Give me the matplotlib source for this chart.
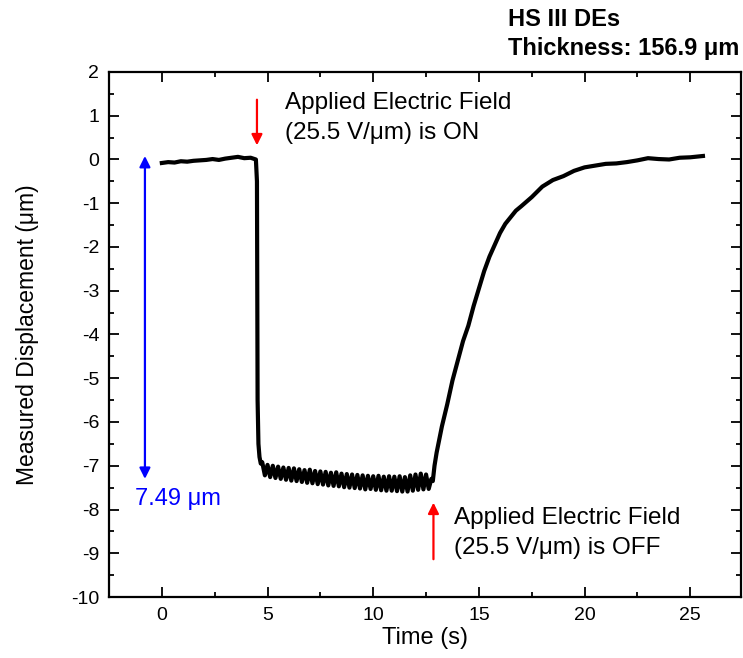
import matplotlib
matplotlib.use("Agg")
import matplotlib.pyplot as plt
from matplotlib.ticker import MultipleLocator

plt.rcParams['font.family'] = ['Liberation Sans', 'DejaVu Sans']
plt.rcParams['axes.unicode_minus'] = False

# field off, before switching on
tBefore = [0.0, 0.3, 0.6, 0.9, 1.2, 1.5, 1.8, 2.1, 2.4, 2.7, 3.0, 3.3, 3.6, 3.9, 4.2, 4.45]
yBefore = [-0.08, -0.06, -0.07, -0.04, -0.05, -0.03, -0.02, -0.01, 0.01, -0.01, 0.02, 0.04, 0.06, 0.03, 0.04, 0.0]

# field on: sharp drop then noisy plateau
tOn = [4.5, 4.53, 4.57, 4.62, 4.68,
       4.75, 4.875, 5.0, 5.125, 5.25, 5.375, 5.5, 5.625, 5.75, 5.875,
       6.0, 6.125, 6.25, 6.375, 6.5, 6.625, 6.75, 6.875, 7.0, 7.125,
       7.25, 7.375, 7.5, 7.625, 7.75, 7.875, 8.0, 8.125, 8.25, 8.375,
       8.5, 8.625, 8.75, 8.875, 9.0, 9.125, 9.25, 9.375, 9.5, 9.625,
       9.75, 9.875, 10.0, 10.125, 10.25, 10.375, 10.5, 10.625, 10.75, 10.875,
       11.0, 11.125, 11.25, 11.375, 11.5, 11.625, 11.75, 11.875, 12.0, 12.125,
       12.25, 12.375, 12.5, 12.625, 12.75]
yOn = [-0.5, -5.5, -6.5, -6.8, -6.95,
       -6.92, -7.22, -6.98, -7.26, -7.00, -7.28, -7.02, -7.30, -7.04, -7.32,
       -7.05, -7.34, -7.06, -7.35, -7.08, -7.37, -7.10, -7.39, -7.09, -7.40,
       -7.12, -7.42, -7.13, -7.43, -7.14, -7.45, -7.16, -7.46, -7.15, -7.47,
       -7.18, -7.49, -7.19, -7.50, -7.20, -7.51, -7.21, -7.52, -7.22, -7.54,
       -7.23, -7.53, -7.24, -7.55, -7.23, -7.56, -7.25, -7.57, -7.24, -7.57,
       -7.25, -7.58, -7.24, -7.59, -7.26, -7.59, -7.22, -7.57, -7.20, -7.55,
       -7.18, -7.54, -7.20, -7.53, -7.30]

# field off again: recovery
tOff = [12.82, 12.9, 13.0, 13.25, 13.5, 13.75, 14.0, 14.25, 14.5, 14.75,
        15.0, 15.25, 15.5, 15.75, 16.0, 16.25, 16.5, 16.75, 17.0, 17.5,
        18.0, 18.5, 19.0, 19.5, 20.0, 20.5, 21.0, 21.5, 22.0, 22.5,
        23.0, 23.5, 24.0, 24.5, 25.0, 25.6]
yOff = [-7.35, -7.0, -6.7, -6.1, -5.6, -5.05, -4.6, -4.15, -3.8, -3.35,
        -2.95, -2.55, -2.22, -1.95, -1.68, -1.47, -1.32, -1.17, -1.07, -0.86,
        -0.62, -0.47, -0.38, -0.26, -0.18, -0.14, -0.1, -0.09, -0.06, -0.02,
        0.03, 0.01, 0.0, 0.04, 0.05, 0.08]

t = tBefore + tOn + tOff
y = yBefore + yOn + yOff

fig = plt.figure(figsize=(7.43, 6.58), dpi=100)
ax = fig.add_axes([0.1467, 0.0927, 0.8506, 0.7979])

ax.plot(t, y, color='k', lw=3)

ax.set_xlim(-2.5, 27.4)
ax.set_ylim(-10, 2)
ax.xaxis.set_major_locator(MultipleLocator(5))
ax.xaxis.set_minor_locator(MultipleLocator(2.5))
ax.yaxis.set_major_locator(MultipleLocator(1))
ax.yaxis.set_minor_locator(MultipleLocator(0.5))
ax.tick_params(which='both', direction='in', top=True, right=True, width=1.3, labelsize=14)
ax.tick_params(which='major', length=7.5)
ax.tick_params(which='minor', length=3.8)
ax.tick_params(axis='x', pad=7)
ax.tick_params(axis='y', pad=7)
for sp in ax.spines.values():
    sp.set_linewidth(1.6)

ax.set_xlabel("Time (s)", fontsize=17, labelpad=2)
ax.set_ylabel("Measured Displacement (\u03bcm)", fontsize=16.5, labelpad=23)

# arrows and notes
ax.annotate("", xy=(4.5, 0.26), xytext=(4.5, 1.43),
            arrowprops=dict(arrowstyle='-|>', color='red', lw=1.6, mutation_scale=16))
ax.text(5.85, 1.28, "Applied Electric Field", fontsize=17.5, va='center', ha='left')
ax.text(5.85, 0.6, "(25.5 V/\u03bcm) is ON", fontsize=17.5, va='center', ha='left')

ax.annotate("", xy=(12.85, -7.78), xytext=(12.85, -9.2),
            arrowprops=dict(arrowstyle='-|>', color='red', lw=1.6, mutation_scale=16))
ax.text(13.8, -8.19, "Applied Electric Field", fontsize=17.5, va='center', ha='left')
ax.text(13.8, -8.88, "(25.5 V/\u03bcm) is OFF", fontsize=17.5, va='center', ha='left')

ax.annotate("", xy=(-0.8, -7.3), xytext=(-0.8, 0.08),
            arrowprops=dict(arrowstyle='<|-|>', color='blue', lw=1.6, mutation_scale=16,
                            shrinkA=0, shrinkB=0))
ax.text(-1.25, -7.75, "7.49 \u03bcm", color='blue', fontsize=17, va='center', ha='left')

fig.text(0.684, 1 - 19 / 658, "HS III DEs", fontsize=17, fontweight='bold', va='center', ha='left')
fig.text(0.684, 1 - 48 / 658, "Thickness: 156.9 \u03bcm", fontsize=17, fontweight='bold', va='center', ha='left')

fig.savefig("out.png", dpi=100)
